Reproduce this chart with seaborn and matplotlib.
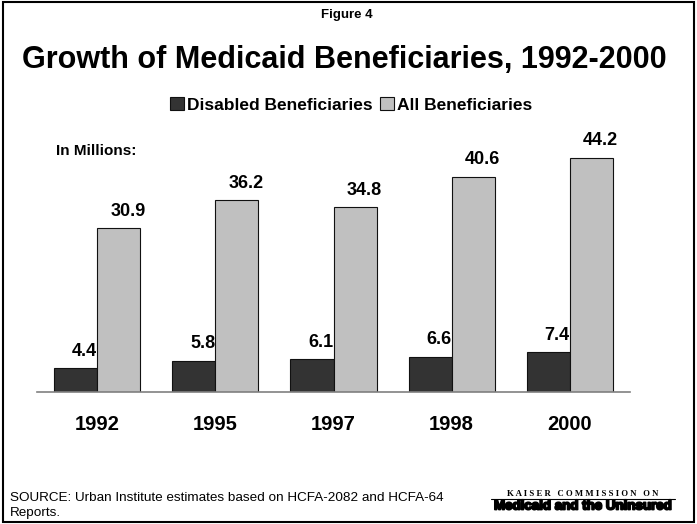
import matplotlib
matplotlib.use("Agg")
import matplotlib.pyplot as plt
import matplotlib.patheffects as pe
import seaborn as sns
import pandas as pd
from matplotlib.patches import Patch, Rectangle

years = ["1992", "1995", "1997", "1998", "2000"]
disabled = [4.4, 5.8, 6.1, 6.6, 7.4]
all_benef = [30.9, 36.2, 34.8, 40.6, 44.2]
series_names = ["Disabled Beneficiaries", "All Beneficiaries"]
colors = ["#333333", "#C0C0C0"]

df = pd.DataFrame({
    "year": years * 2,
    "value": disabled + all_benef,
    "series": [series_names[0]] * len(years) + [series_names[1]] * len(years),
})

sns.set_style("white")
plt.rcParams["font.family"] = ["Liberation Sans", "DejaVu Sans"]
plt.rcParams["text.color"] = "black"
plt.rcParams["xtick.color"] = "black"

W, H = 697, 524
fig = plt.figure(figsize=(W / 100, H / 100), dpi=100)
# axes: left 37, right 630, bottom 391.5 (from top), ylim 0..50
ax = fig.add_axes([37 / W, (H - 391.5) / H, (630 - 37) / W, 264.5 / H])
sns.barplot(data=df, x="year", y="value", hue="series", palette=colors,
            width=0.73, gap=0, ax=ax, edgecolor="#111111", linewidth=0.8,
            legend=False, saturation=1)
ax.set_xlim(-0.51, 4.51)
ax.set_ylim(0, 50)
ax.set_xlabel("")
ax.set_ylabel("")
ax.set_yticks([])
for s in ["top", "right", "left"]:
    ax.spines[s].set_visible(False)
ax.spines["bottom"].set_color("#808080")
ax.spines["bottom"].set_linewidth(1.2)
ax.tick_params(axis="x", length=0, pad=17, labelsize=14.5, labelcolor="black")
for t in ax.get_xticklabels():
    t.set_fontweight("bold")
for c in ax.containers:
    anns = ax.bar_label(c, fmt="%.1f", padding=6, fontsize=13,
                        fontweight="bold", color="black")
    for a in anns:
        a.xyann = (6.5, a.xyann[1])

fig.text(56 / W, 1 - 151 / H, "In Millions:", fontsize=11, fontweight="bold",
         ha="left", va="center")

fig.text(347 / W, 1 - 15 / H, "Figure 4", fontsize=9.5, fontweight="bold",
         ha="center", va="center")
fig.text(344 / W, 1 - 60 / H, "Growth of Medicaid Beneficiaries, 1992-2000",
         fontsize=22, fontweight="bold", ha="center", va="center")

handles = [Patch(facecolor=colors[i], edgecolor="#111111", linewidth=0.8,
                 label=series_names[i]) for i in range(2)]
fig.legend(handles=handles, loc="center", bbox_to_anchor=(351 / W, 1 - 105 / H),
           ncol=2, frameon=False, prop={"weight": "bold", "size": 12.5},
           handlelength=0.8, handleheight=0.8, handletextpad=0.2,
           columnspacing=0.4)

fig.text(10 / W, 1 - 505.5 / H,
         "SOURCE: Urban Institute estimates based on HCFA-2082 and HCFA-64\nReports.",
         fontsize=9.7, ha="left", va="center", linespacing=1.3)
fig.text(583 / W, 1 - 494 / H, "K A I S E R   C O M M I S S I O N   O N",
         fontsize=6.3, fontweight="bold", family=["Liberation Serif"],
         ha="center", va="center")
fig.add_artist(plt.Line2D([491 / W, 675 / W], [1 - 499 / H, 1 - 499 / H],
                          color="black", linewidth=0.8))
fig.text(583 / W, 1 - 506.5 / H, "Medicaid and the Uninsured",
         fontsize=9.6, fontweight="bold", family=["Liberation Sans"],
         ha="center", va="center",
         path_effects=[pe.withStroke(linewidth=1.3, foreground="black")])

fig.add_artist(Rectangle((3 / W, 2 / H), (W - 6) / W, (H - 4) / H,
                         transform=fig.transFigure, fill=False,
                         edgecolor="black", linewidth=1.5))

fig.savefig("out.png", dpi=100)
